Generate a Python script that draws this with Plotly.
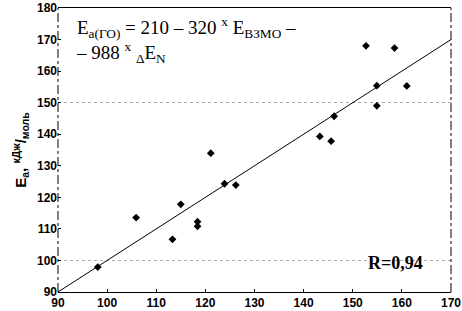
import plotly.graph_objects as go

# Data points (x: predicted, y: experimental Ea, kJ/mol)
x_vals = [98.1, 105.9, 121.1, 115.0, 118.4, 118.4, 113.3, 123.9, 126.2,
          152.7, 158.5, 154.9, 161.0, 154.9, 146.2, 143.3, 145.6]
y_vals = [97.9, 113.6, 134.0, 117.8, 112.3, 110.8, 106.7, 124.3, 123.9,
          168.0, 167.3, 155.4, 155.3, 149.0, 145.7, 139.3, 137.8]

# Fit line (y = x)
fit_x = [90, 170]
fit_y = [90, 170]

x_ticks = [90, 100, 110, 120, 130, 140, 150, 160, 170]
y_ticks = [90, 100, 110, 120, 130, 140, 150, 160, 170, 180]
grid_y = [100, 150]

fig = go.Figure()
fig.add_trace(go.Scatter(x=fit_x, y=fit_y, mode="lines",
                         line=dict(color="black", width=1), showlegend=False))
fig.add_trace(go.Scatter(x=x_vals, y=y_vals, mode="markers",
                         marker=dict(symbol="diamond", size=6, color="black"),
                         showlegend=False))
# invisible trace on overlay axis for sparse dotted grid
fig.add_trace(go.Scatter(x=[90], y=[90], yaxis="y2", mode="markers",
                         marker=dict(opacity=0), showlegend=False, hoverinfo="skip"))

tickfont = dict(family="Liberation Sans, Arial", size=12, color="black", weight="bold")

fig.update_layout(
    width=462, height=311,
    margin=dict(l=58, r=11, t=8, b=19),
    paper_bgcolor="white", plot_bgcolor="white",
    xaxis=dict(range=[90, 170], tickvals=x_ticks, showgrid=False, zeroline=False,
               showline=True, linecolor="black", linewidth=1, mirror=True,
               ticks="inside", ticklen=3, tickcolor="black", tickfont=tickfont,
               automargin=False),
    yaxis=dict(range=[90, 180], tickvals=y_ticks, showgrid=False, zeroline=False,
               showline=False, ticks="inside", ticklen=3, tickcolor="black",
               tickfont=tickfont, automargin=False,
               title=dict(text="E<sub>a</sub>, <sup>кДж</sup>/<sub>моль</sub>",
                          font=dict(family="Liberation Sans, Arial", size=15,
                                    color="black", weight="bold"),
                          standoff=6)),
    yaxis2=dict(range=[90, 180], overlaying="y", tickvals=grid_y, showgrid=True,
                griddash="dot", gridcolor="#aaa", gridwidth=1, showticklabels=False,
                zeroline=False, showline=False, automargin=False),
    shapes=[
        dict(type="line", xref="paper", yref="paper", x0=0, x1=0, y0=0, y1=1,
             line=dict(color="black", width=1, dash="dashdot")),
        dict(type="line", xref="paper", yref="paper", x0=1, x1=1, y0=0, y1=1,
             line=dict(color="black", width=1, dash="dashdot")),
    ],
    annotations=[
        dict(xref="paper", yref="paper", x=0.04, y=0.985, xanchor="left", yanchor="top",
             align="left", showarrow=False,
             text="E<sub>a(ГО)</sub> = 210 – 320 <sup>x</sup> E<sub>ВЗМО</sub> –<br>– 988 <sup>x</sup> <sub>Δ</sub>E<sub>N</sub>",
             font=dict(family="Liberation Serif, Times New Roman", size=19, color="black")),
        dict(xref="paper", yref="paper", x=0.935, y=0.06, xanchor="right", yanchor="bottom",
             showarrow=False, text="R=0,94",
             font=dict(family="Liberation Serif, Times New Roman", size=18, color="black",
                       weight="bold")),
    ],
)

fig.write_html("out.html", config={"displayModeBar": False},
               post_script="document.body.style.margin='0';document.body.style.overflow='hidden';")
